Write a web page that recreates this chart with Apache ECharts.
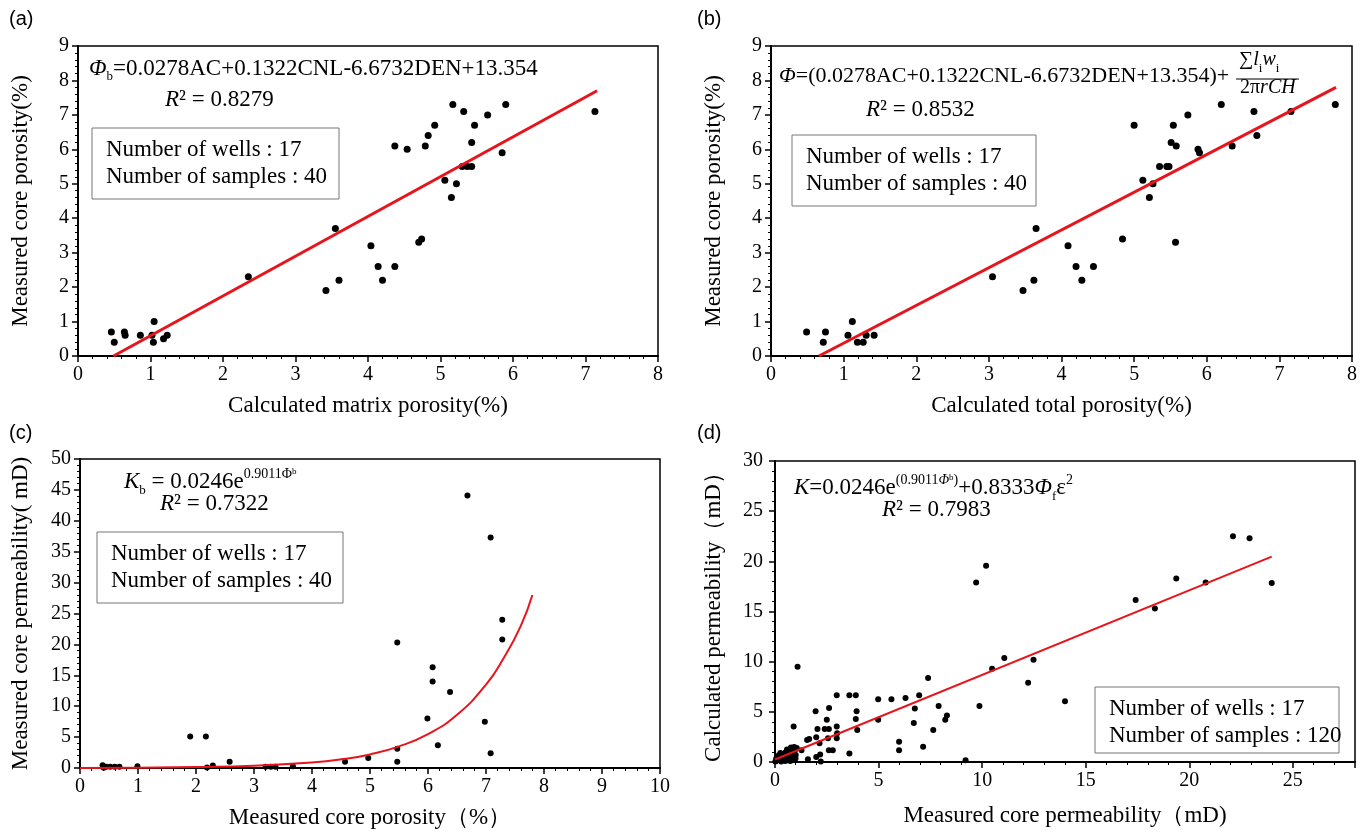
<!DOCTYPE html>
<html>
<head>
<meta charset="utf-8">
<script src="https://cdn.jsdelivr.net/npm/echarts@6/dist/echarts.min.js"></script>
<style>
  html, body { margin: 0; padding: 0; background: #fff; }
  #main { width: 1368px; height: 834px; }
</style>
</head>
<body>
<div id="main"></div>
<script>
// (a) calculated matrix porosity vs measured core porosity
const matrixPorA = [0.46, 0.50, 0.64, 0.65, 0.86, 1.02, 1.04, 1.05, 1.18, 1.23, 2.35, 3.42, 3.55, 3.60, 4.04, 4.14, 4.20, 4.37, 4.37, 4.54, 4.70, 4.74, 4.79, 4.83, 4.92, 5.06, 5.15, 5.17, 5.22, 5.30, 5.32, 5.37, 5.43, 5.43, 5.47, 5.65, 5.85, 5.90, 7.13];
const corePorA = [0.7, 0.4, 0.7, 0.6, 0.6, 0.6, 0.4, 1.0, 0.5, 0.6, 2.3, 1.9, 3.7, 2.2, 3.2, 2.6, 2.2, 6.1, 2.6, 6.0, 3.3, 3.4, 6.1, 6.4, 6.7, 5.1, 4.6, 7.3, 5.0, 5.5, 7.1, 5.5, 5.5, 6.2, 6.7, 7.0, 5.9, 7.3, 7.1];
const fitAx = [0.49, 7.16];
const fitAy = [0, 7.70];

// (b) calculated total porosity vs measured core porosity
const totalPorB = [0.49, 0.72, 0.75, 1.06, 1.12, 1.19, 1.27, 1.31, 1.42, 3.05, 3.47, 3.62, 3.65, 4.09, 4.20, 4.28, 4.44, 4.84, 5.00, 5.12, 5.21, 5.26, 5.35, 5.45, 5.48, 5.51, 5.54, 5.57, 5.58, 5.74, 5.88, 5.90, 6.20, 6.35, 6.65, 6.69, 7.16, 7.77];
const corePorB = [0.7, 0.4, 0.7, 0.6, 1.0, 0.4, 0.4, 0.6, 0.6, 2.3, 1.9, 2.2, 3.7, 3.2, 2.6, 2.2, 2.6, 3.4, 6.7, 5.1, 4.6, 5.0, 5.5, 5.5, 5.5, 6.2, 6.7, 3.3, 6.1, 7.0, 6.0, 5.9, 7.3, 6.1, 7.1, 6.4, 7.1, 7.3];
const fitBx = [0.66, 7.78];
const fitBy = [0, 7.80];

// (c) measured core porosity vs measured core permeability
const corePorC = [0.39, 0.41, 0.45, 0.52, 0.60, 0.68, 0.99, 1.90, 2.17, 2.19, 2.29, 2.58, 3.20, 3.29, 3.37, 3.67, 4.57, 4.97, 5.47, 5.47, 5.47, 5.99, 6.08, 6.08, 6.17, 6.38, 6.68, 6.98, 7.08, 7.08, 7.28, 7.28];
const permC = [0.45, 0.05, 0.2, 0.2, 0.2, 0.2, 0.3, 5.1, 5.1, 0.1, 0.4, 1.0, 0.2, 0.2, 0.2, 0.3, 1.0, 1.6, 3.1, 1.0, 20.3, 8.0, 16.3, 14.0, 3.7, 12.3, 44.1, 7.5, 37.3, 2.4, 24.0, 20.8];
// fitted curve
const fitCx = [0, 1, 2, 3, 4, 4.5, 5, 5.5, 6, 6.5, 7, 7.3, 7.6, 7.8];
const fitCy = [0.02, 0.06, 0.15, 0.37, 0.9, 1.4, 2.2, 3.5, 5.5, 8.6, 13.5, 17.7, 23, 28];

// (d) measured core permeability vs calculated permeability
const permD = [0.02, 0.06, 0.10, 0.12, 0.18, 0.20, 0.26, 0.30, 0.30, 0.35,
  0.40, 0.45, 0.50, 0.50, 0.55, 0.58, 0.62, 0.68, 0.70, 0.74,
  0.77, 0.80, 0.85, 0.88, 0.90, 0.93, 0.96, 0.99, 1.00, 1.05,
  1.09, 1.28, 1.55, 1.59, 1.65, 1.96, 1.99, 1.99, 2.05, 2.15,
  2.18, 2.21, 2.40, 2.50, 2.56, 2.60, 2.60, 2.61, 2.79, 2.98,
  2.98, 2.98, 3.00, 3.59, 3.59, 3.90, 3.90, 3.94, 3.97, 4.98,
  4.98, 5.62, 5.99, 5.99, 6.30, 6.70, 6.75, 6.96, 7.15, 7.39,
  7.64, 7.90, 8.22, 8.30, 9.20, 9.71, 9.87, 10.19, 10.48, 11.07,
  12.22, 12.48, 14.00, 17.41, 18.34, 19.37, 20.79, 22.11, 22.91, 23.98];
const calcPermD = [0.05, 0.34, 0.15, 0.45, 0.68, 0.25, 0.90, 0.50, 0.05, 0.20,
  0.75, 0.40, 0.95, 0.10, 0.60, 1.25, 0.30, 0.80, 1.00, 0.10,
  1.45, 0.50, 0.20, 0.90, 3.55, 1.50, 1.18, 0.34, 0.70, 1.40,
  9.50, 1.18, 2.20, 0.27, 2.30, 5.07, 2.47, 0.50, 3.28, 1.86,
  0.74, 0.05, 3.28, 4.22, 2.36, 3.28, 1.18, 5.37, 1.18, 6.65,
  3.55, 2.36, 2.87, 0.84, 6.65, 6.65, 4.29, 5.07, 3.20, 6.25,
  4.22, 6.25, 2.03, 1.18, 6.39, 3.89, 5.34, 6.65, 1.52, 8.38,
  3.20, 5.57, 4.22, 4.63, 0.17, 17.90, 5.57, 19.55, 9.29, 10.37,
  7.90, 10.20, 6.05, 16.15, 15.30, 18.30, 17.90, 22.50, 22.30, 17.85];
const fitDx = [0, 23.98];
const fitDy = [0.25, 20.47];

const serif = "'Liberation Serif', 'Times New Roman', serif";
const sans = "'Liberation Sans', Arial, sans-serif";
const red = '#e8141c';

const pairs = (xs, ys) => xs.map((x, i) => [x, ys[i]]);

// shared axis look
function axis(opts) {
  return Object.assign({
    type: 'value',
    nameLocation: 'middle',
    nameTextStyle: { fontFamily: serif, fontSize: 23, color: '#000' },
    axisLine: { show: true, onZero: false, lineStyle: { color: '#000', width: 2 } },
    axisTick: { show: true, length: 6, lineStyle: { color: '#000', width: 1.5 } },
    minorTick: { show: true, splitNumber: 5, length: 3, lineStyle: { color: '#000', width: 1 } },
    splitLine: { show: false },
    axisLabel: { color: '#000', fontFamily: serif, fontSize: 20, margin: 9 }
  }, opts);
}

function grid(left, top, width, height) {
  return { left, top, width, height, show: true, borderColor: '#000', borderWidth: 1.5, backgroundColor: 'transparent' };
}

function dots(i, data, size) {
  return { type: 'scatter', xAxisIndex: i, yAxisIndex: i, data, symbolSize: size,
    itemStyle: { color: '#000', opacity: 1 }, silent: true, z: 2 };
}

function fit(i, data, width, smooth) {
  return { type: 'line', xAxisIndex: i, yAxisIndex: i, data, symbol: 'none', smooth: !!smooth,
    lineStyle: { color: red, width }, silent: true, z: 3 };
}

// rich text styles for the formulas
function richStyles(size) {
  return {
    n: { fontFamily: serif, fontSize: size, lineHeight: 30, fill: '#000' },
    i: { fontFamily: serif, fontSize: size, fontStyle: 'italic', lineHeight: 30, fill: '#000' },
    sub: { fontFamily: serif, fontSize: 13, lineHeight: 15, verticalAlign: 'bottom', fill: '#000' },
    sup: { fontFamily: serif, fontSize: 14, lineHeight: 15, verticalAlign: 'top', fill: '#000' },
    supi: { fontFamily: serif, fontSize: 14, fontStyle: 'italic', lineHeight: 15, verticalAlign: 'top', fill: '#000' },
    supsub: { fontFamily: serif, fontSize: 9, lineHeight: 20, verticalAlign: 'top', fill: '#000' }
  };
}

function formula(left, top, text, size) {
  return { type: 'text', left, top, style: { text, rich: richStyles(size || 23) } };
}

function label(left, top, text) {
  return { type: 'text', left, top, style: { text, fontFamily: sans, fontSize: 20, fill: '#000' } };
}

function infoBox(x, y, w, h, samples) {
  return [
    { type: 'rect', shape: { x, y, width: w, height: h }, style: { fill: '#fff', stroke: '#777', lineWidth: 1 }, z: 10 },
    { type: 'text', left: x + 14, top: y + 8, z: 11,
      style: { text: 'Number of wells : 17\nNumber of samples : ' + samples, fontFamily: serif, fontSize: 23, lineHeight: 27, fill: '#000' } }
  ];
}

const chart = echarts.init(document.getElementById('main'));

chart.setOption({
  animation: false,
  backgroundColor: '#fff',
  grid: [
    grid(78, 46, 580, 310),
    grid(771, 46, 581, 310),
    grid(80, 459, 580, 309),
    grid(775, 461, 580, 301)
  ],
  xAxis: [
    axis({ gridIndex: 0, min: 0, max: 8, interval: 1, name: 'Calculated matrix porosity(%)', nameGap: 38 }),
    axis({ gridIndex: 1, min: 0, max: 8, interval: 1, name: 'Calculated total porosity(%)', nameGap: 38 }),
    axis({ gridIndex: 2, min: 0, max: 10, interval: 1, name: 'Measured core porosity（%）', nameGap: 38 }),
    axis({ gridIndex: 3, min: 0, max: 28, interval: 5, name: 'Measured core permeability（mD)', nameGap: 42,
      axisLabel: { color: '#000', fontFamily: serif, fontSize: 20, margin: 9, formatter: v => (v % 5 === 0 ? v : '') } })
  ],
  yAxis: [
    axis({ gridIndex: 0, min: 0, max: 9, interval: 1, name: 'Measured core porosity(%)', nameGap: 46 }),
    axis({ gridIndex: 1, min: 0, max: 9, interval: 1, name: 'Measured core porosity(%)', nameGap: 46 }),
    axis({ gridIndex: 2, min: 0, max: 50, interval: 5, name: 'Measured core permeability( mD)', nameGap: 48 }),
    axis({ gridIndex: 3, min: 0, max: 30, interval: 5, name: 'Calculated permeability（mD）', nameGap: 50,
      axisLabel: { color: '#000', fontFamily: serif, fontSize: 20, margin: 12 } })
  ],
  series: [
    dots(0, pairs(matrixPorA, corePorA), 7),
    fit(0, pairs(fitAx, fitAy), 3),
    dots(1, pairs(totalPorB, corePorB), 7),
    fit(1, pairs(fitBx, fitBy), 3),
    dots(2, pairs(corePorC, permC), 6),
    fit(2, pairs(fitCx, fitCy), 2, true),
    dots(3, pairs(permD, calcPermD), 6),
    fit(3, pairs(fitDx, fitDy), 2)
  ],
  graphic: [
    label(9, 9, '(a)'),
    label(697, 9, '(b)'),
    label(9, 423, '(c)'),
    label(697, 423, '(d)'),

    formula(89, 57, '{i|Φ}{sub|b}{n|=0.0278AC+0.1322CNL-6.6732DEN+13.354}', 23),
    formula(165, 88, '{i|R}{n|² = 0.8279}', 23),
    ...infoBox(92, 128, 247, 71, 40),

    formula(779, 65, '{i|Φ}{n|=(0.0278AC+0.1322CNL-6.6732DEN+13.354)+}', 22),
    formula(1239, 50, '{n|∑}{i|l}{sub|i}{i|w}{sub|i}', 20),
    { type: 'line', shape: { x1: 1236, y1: 79, x2: 1299, y2: 79 }, style: { stroke: '#000', lineWidth: 1 } },
    formula(1240, 78, '{n|2π}{i|rCH}', 20),
    formula(866, 98, '{i|R}{n|² = 0.8532}', 23),
    ...infoBox(792, 135, 244, 71, 40),

    formula(124, 467, '{i|K}{sub|b}{n| = 0.0246e}{sup|0.9011Φ}{supsub|b}', 23),
    formula(160, 492, '{i|R}{n|² = 0.7322}', 23),
    ...infoBox(97, 532, 246, 71, 40),

    formula(794, 473, '{i|K}{n|=0.0246e}{sup|(0.9011}{supi|Φ}{supsub|b}{sup|)}{n|+0.8333}{i|Φ}{sub|f}{n|ε}{sup|2}', 23),
    formula(882, 498, '{i|R}{n|² = 0.7983}', 23),
    ...infoBox(1095, 687, 244, 66, 120)
  ]
});
</script>
</body>
</html>
